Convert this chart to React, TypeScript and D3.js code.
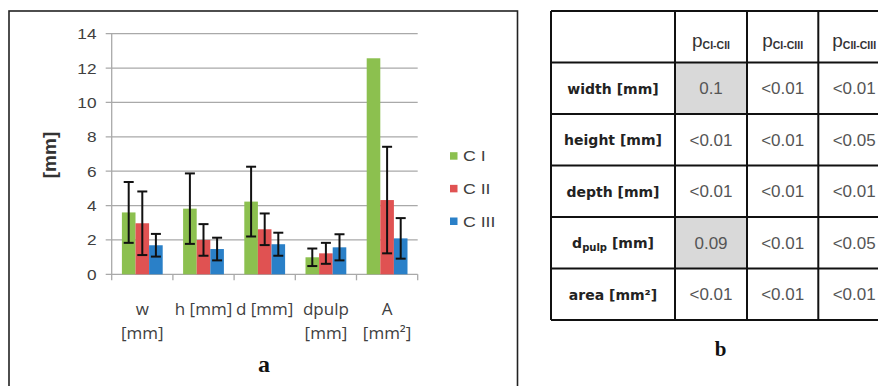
import React from "react";
import * as d3 from "d3";

// chart a: mean values per class and their standard deviations
const categories = ["w [mm]", "h [mm]", "d [mm]", "dpulp [mm]", "A [mm²]"];
const categoryLines = [["w", "[mm]"], ["h [mm]"], ["d [mm]"], ["dpulp", "[mm]"], ["A", "[mm²]"]];
const seriesNames = ["C I", "C II", "C III"];
const seriesColors = ["#8cc04f", "#e05252", "#2a80c8"];
const cI = [3.6, 3.82, 4.23, 0.99, 12.57];
const cII = [2.97, 2.0, 2.62, 1.22, 4.32];
const cIII = [1.69, 1.47, 1.75, 1.57, 2.09];
const sdCI = [1.77, 2.05, 2.03, 0.51, null];
const sdCII = [1.85, 0.92, 0.92, 0.61, 3.1];
const sdCIII = [0.66, 0.66, 0.67, 0.76, 1.18];
const yTicks = [0, 2, 4, 6, 8, 10, 12, 14];

// table b: p values
const rowLabels = ["width", "height", "depth", "dpulp", "area"];
const colHeaders = [["p", "CI-CII"], ["p", "CI-CIII"], ["p", "CII-CIII"]];
const pCI_CII = ["0.1", "<0.01", "<0.01", "0.09", "<0.01"];
const pCI_CIII = ["<0.01", "<0.01", "<0.01", "<0.01", "<0.01"];
const pCII_CIII = ["<0.01", "<0.05", "<0.01", "<0.05", "<0.01"];

const W = 878;
const H = 386;
const sans = "'Liberation Sans', Arial, sans-serif";
const serif = "'Liberation Serif', 'Times New Roman', serif";

function Chart() {
  const values = [cI, cII, cIII];
  const sds = [sdCI, sdCII, sdCIII];

  const x = d3.scaleBand().domain(categories).range([111.7, 417.7]);
  const y = d3.scaleLinear().domain([0, 14]).range([274.3, 33.7]);
  const bw = x.bandwidth();
  const barW = bw / 4.5;
  const xs = d3.scaleBand().domain(seriesNames).range([barW * 0.75, bw - barW * 0.75]);

  const left = x.range()[0];
  const right = x.range()[1];
  const legendY = d3.scalePoint().domain(seriesNames).range([155.7, 221]);

  return (
    <g>
      <rect x={9} y={11} width={508.5} height={400} fill="none" stroke="#222" strokeWidth={1.6} />
      {/* gridlines + y ticks */}
      {yTicks.map((t) => (
        <g key={t}>
          <line x1={left - 6} x2={right} y1={y(t)} y2={y(t)} stroke="#a9a9a9" strokeWidth={1.3} />
          <text
            transform={`translate(96.5,${y(t) + 5.5}) scale(1.15,1)`}
            textAnchor="end"
            fontFamily={sans}
            fontSize={15}
            fill="#404040"
          >
            {t}
          </text>
        </g>
      ))}
      <line x1={left} x2={left} y1={y(14)} y2={y(0)} stroke="#a9a9a9" strokeWidth={1.3} />
      {/* category tick marks */}
      {[...categories.map((c) => x(c)!), right].map((v, i) => (
        <line key={i} x1={v} x2={v} y1={y(0)} y2={y(0) + 6} stroke="#a9a9a9" strokeWidth={1.3} />
      ))}
      {/* bars */}
      {seriesNames.map((s, si) =>
        categories.map((c, ci) => (
          <rect
            key={s + c}
            x={x(c)! + xs(s)!}
            y={y(values[si][ci])}
            width={xs.bandwidth()}
            height={y(0) - y(values[si][ci])}
            fill={seriesColors[si]}
          />
        ))
      )}
      {/* error bars */}
      {seriesNames.map((s, si) =>
        categories.map((c, ci) => {
          const sd = sds[si][ci];
          if (sd == null) return null;
          const cx = x(c)! + xs(s)! + xs.bandwidth() / 2;
          const v = values[si][ci];
          return (
            <g key={"e" + s + c} stroke="#111" strokeWidth={2}>
              <line x1={cx} x2={cx} y1={y(v + sd)} y2={y(v - sd)} />
              <line x1={cx - 5} x2={cx + 5} y1={y(v + sd)} y2={y(v + sd)} />
              <line x1={cx - 5} x2={cx + 5} y1={y(v - sd)} y2={y(v - sd)} />
            </g>
          );
        })
      )}
      {/* x labels */}
      {categories.map((c, ci) => (
        <text key={c} textAnchor="middle" fontFamily="'Open Sans', sans-serif" fontSize={17} fill="#404040">
          {categoryLines[ci].map((ln, li) => (
            <tspan key={li} x={x(c)! + bw / 2} y={315 + li * 23.5}>
              {ln}
            </tspan>
          ))}
        </text>
      ))}
      {/* y title */}
      <text
        transform="translate(56,155) rotate(-90)"
        textAnchor="middle"
        fontFamily={sans}
        fontWeight="bold"
        fontSize={19}
        fill="#333"
      >
        [mm]
      </text>
      {/* legend */}
      {seriesNames.map((s, si) => (
        <g key={s}>
          <rect x={450} y={legendY(s)! - 3.5} width={7.5} height={7.5} fill={seriesColors[si]} />
          <text
            transform={`translate(463,${legendY(s)! + 5.5}) scale(1.18,1)`}
            fontFamily={sans}
            fontSize={15}
            fill="#404040"
          >
            {s}
          </text>
        </g>
      ))}
      <text x={264} y={372} textAnchor="middle" fontFamily={serif} fontWeight="bold" fontSize={24} fill="#111">
        a
      </text>
    </g>
  );
}

function PTable() {
  const cols = [pCI_CII, pCI_CIII, pCII_CIII];
  const colEdges = [551, 675, 747, 818.3, 890];
  const rowY = d3.scaleBand().domain(["head", ...rowLabels]).range([11, 320]);
  const rh = rowY.bandwidth();

  const label = (r: string) => {
    if (r === "dpulp") {
      return (
        <>
          d<tspan fontSize={10} dy={3}>pulp</tspan>
          <tspan dy={-3}> [mm]</tspan>
        </>
      );
    }
    if (r === "area") return "area [mm²]";
    return `${r} [mm]`;
  };

  return (
    <g>
      {/* shaded cells */}
      {cols.map((col, ci) =>
        col.map((v, ri) =>
          v.startsWith("<") ? null : (
            <rect
              key={`s${ci}${ri}`}
              x={colEdges[ci + 1]}
              y={rowY(rowLabels[ri])!}
              width={colEdges[ci + 2] - colEdges[ci + 1]}
              height={rh}
              fill="#d9d9d9"
            />
          )
        )
      )}
      {/* grid lines */}
      {[...rowY.domain().map((r) => rowY(r)!), 320].map((yy, i) => (
        <line key={"h" + i} x1={colEdges[0]} x2={W + 5} y1={yy} y2={yy} stroke="#111" strokeWidth={2} />
      ))}
      {colEdges.map((xx, i) => (
        <line key={"v" + i} x1={xx} x2={xx} y1={11} y2={320} stroke="#111" strokeWidth={2} />
      ))}
      {/* headers */}
      {colHeaders.map((h, ci) => (
        <text
          key={"c" + ci}
          x={(colEdges[ci + 1] + colEdges[ci + 2]) / 2}
          y={47}
          textAnchor="middle"
          fontFamily={sans}
          fontSize={19}
          fill="#333"
        >
          {h[0]}
          <tspan fontSize={10.5} fontWeight="bold" dy={1.5}>
            {h[1]}
          </tspan>
        </text>
      ))}
      {/* row labels */}
      {rowLabels.map((r) => (
        <text
          key={r}
          x={(colEdges[0] + colEdges[1]) / 2}
          y={rowY(r)! + rh / 2 + 5.5}
          textAnchor="middle"
          fontFamily="'DejaVu Sans', Verdana, sans-serif"
          fontWeight="bold"
          fontSize={14}
          fill="#222"
        >
          {label(r)}
        </text>
      ))}
      {/* values */}
      {cols.map((col, ci) =>
        col.map((v, ri) => (
          <text
            key={`t${ci}${ri}`}
            x={(colEdges[ci + 1] + colEdges[ci + 2]) / 2}
            y={rowY(rowLabels[ri])! + rh / 2 + 6}
            textAnchor="middle"
            fontFamily={sans}
            fontSize={17}
            fill="#555"
          >
            {v}
          </text>
        ))
      )}
      <text x={720.5} y={356} textAnchor="middle" fontFamily={serif} fontWeight="bold" fontSize={21} fill="#111">
        b
      </text>
    </g>
  );
}

export default function App() {
  return (
    <svg
      width={W}
      height={H}
      style={{ position: "absolute", left: 0, top: 0, background: "#fff" }}
    >
      <rect width={W} height={H} fill="#fff" />
      <Chart />
      <PTable />
    </svg>
  );
}
